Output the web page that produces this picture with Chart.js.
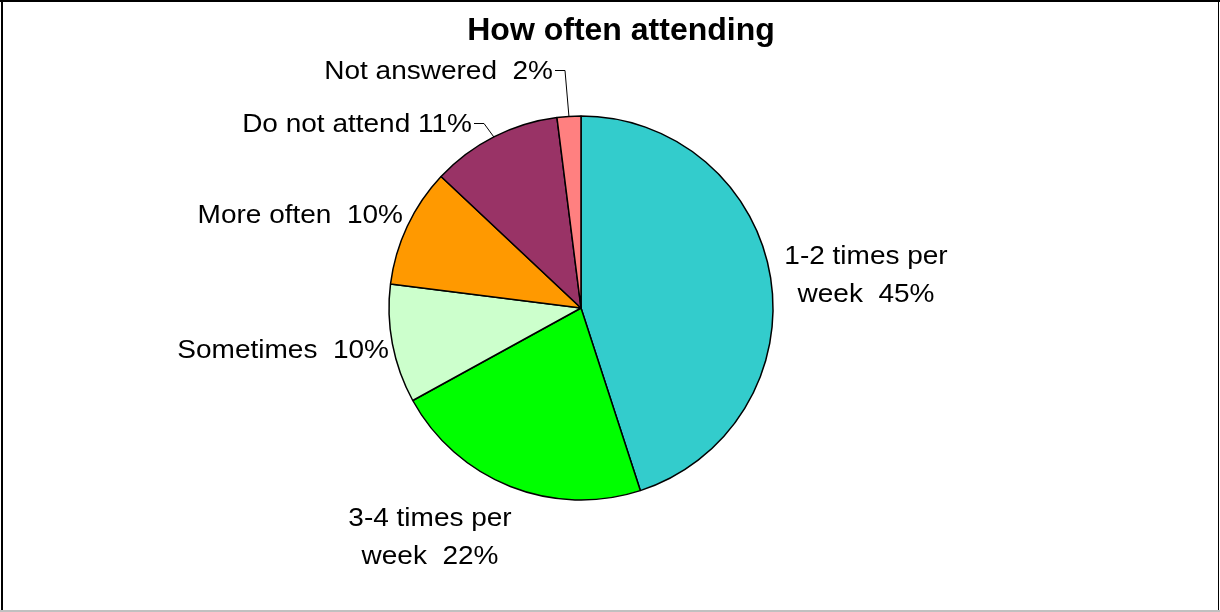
<!DOCTYPE html>
<html>
<head>
<meta charset="utf-8">
<title>How often attending</title>
<script src="https://cdn.jsdelivr.net/npm/chart.js@4"></script>
<style>
  html, body { margin: 0; padding: 0; background: #fff; }
  canvas { display: block; }
</style>
</head>
<body>
<canvas id="attendChart" width="1220" height="612"></canvas>
<script>
// slices, clockwise from 12 o'clock
var categories = [
  ["1-2 times per", "week"],
  ["3-4 times per", "week"],
  ["Sometimes"],
  ["More often"],
  ["Do not attend"],
  ["Not answered"]
];
var percentages = [45, 22, 10, 10, 11, 2];
var sliceColours = ["#33cccc", "#00ff00", "#ccffcc", "#ff9900", "#993366", "#ff8080"];

// label placement relative to the pie centre (text baselines)
var labelLayout = [
  { dx: 285, dy: -44, align: "center", gap: "  " },
  { dx: -151, dy: 218, align: "center", gap: "  " },
  { dx: -192, dy: 50, align: "right", gap: "  " },
  { dx: -178, dy: -85, align: "right", gap: "  " },
  { dx: -109, dy: -176, align: "right", gap: " ", leader: true },
  { dx: -28, dy: -229, align: "right", gap: "  ", leader: true }
];

var LABEL_FONT = "25px 'Liberation Sans', Arial, sans-serif";
var LABEL_STRETCH = 1.12;
var LINE_HEIGHT = 38;

function drawStretched(ctx, text, x, y, align, sx) {
  ctx.save();
  ctx.translate(x, y);
  ctx.scale(sx, 1);
  ctx.textAlign = align;
  ctx.fillText(text, 0, 0);
  ctx.restore();
}

var framePlugin = {
  id: "frame",
  beforeDraw: function (chart) {
    var ctx = chart.ctx;
    ctx.save();
    ctx.fillStyle = "#ffffff";
    ctx.fillRect(0, 0, chart.width, chart.height);
    ctx.fillStyle = "#000000";
    ctx.fillRect(0, 0, chart.width, 2);
    ctx.fillRect(1, 0, 2, chart.height);
    ctx.fillRect(chart.width - 2, 0, 1, chart.height - 1);
    ctx.fillStyle = "#c0c0c0";
    ctx.fillRect(0, chart.height - 2, chart.width, 2);

    ctx.fillStyle = "#000000";
    ctx.font = "bold 32px 'Liberation Sans', Arial, sans-serif";
    ctx.textAlign = "center";
    ctx.textBaseline = "alphabetic";
    ctx.fillText("How often attending", 621, 40);
    ctx.restore();
  }
};

var sliceLabels = {
  id: "sliceLabels",
  afterDatasetsDraw: function (chart) {
    var ctx = chart.ctx;
    var meta = chart.getDatasetMeta(0);
    ctx.save();
    ctx.font = LABEL_FONT;
    ctx.fillStyle = "#000000";
    ctx.strokeStyle = "#000000";
    ctx.lineWidth = 1;
    ctx.textBaseline = "alphabetic";

    meta.data.forEach(function (arc, i) {
      var p = arc.getProps(["x", "y", "startAngle", "endAngle", "outerRadius"], true);
      var lay = labelLayout[i];
      var lines = categories[i].slice();
      var last = lines.length - 1;
      lines[last] = lines[last] + lay.gap + percentages[i] + "%";

      var tx = p.x + lay.dx;
      var ty = p.y + lay.dy;
      lines.forEach(function (line, k) {
        drawStretched(ctx, line, tx, ty + k * LINE_HEIGHT, lay.align, LABEL_STRETCH);
      });

      // short elbow from the label to the slice edge
      if (lay.leader) {
        var mid = (p.startAngle + p.endAngle) / 2;
        var ex = p.x + Math.cos(mid) * p.outerRadius;
        var ey = p.y + Math.sin(mid) * p.outerRadius;
        var ly = ty - 9;
        ctx.beginPath();
        ctx.moveTo(tx + 2, ly + 0.5);
        ctx.lineTo(tx + 12, ly + 0.5);
        ctx.lineTo(ex, ey);
        ctx.stroke();
      }
    });
    ctx.restore();
  }
};

var ctx = document.getElementById("attendChart").getContext("2d");
var attendChart = new Chart(ctx, {
  type: "pie",
  data: {
    labels: categories.map(function (c) { return c.join(" "); }),
    datasets: [
      {
        data: percentages,
        backgroundColor: sliceColours,
        borderColor: "#000000",
        borderWidth: 1.5,
        hoverOffset: 0
      }
    ]
  },
  options: {
    responsive: false,
    animation: false,
    radius: 192,
    layout: {
      padding: { left: 0, right: 58, top: 116, bottom: 112 }
    },
    plugins: {
      legend: { display: false },
      tooltip: { enabled: false },
      title: { display: false }
    }
  },
  plugins: [framePlugin, sliceLabels]
});
</script>
</body>
</html>
